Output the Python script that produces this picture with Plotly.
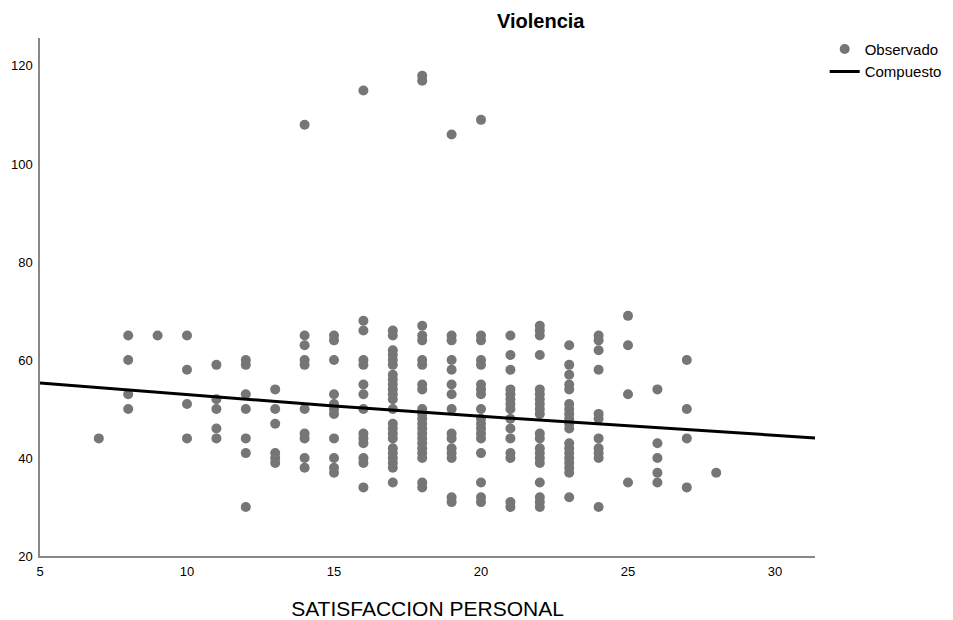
import plotly.graph_objects as go

# Observed points: SATISFACCION PERSONAL (x) vs Violencia (y)
satisfaccion = (
    [7]
    + [8] * 4
    + [9]
    + [10] * 4
    + [11] * 5
    + [12] * 7
    + [13] * 6
    + [14] * 10
    + [15] * 11
    + [16] * 14
    + [17] * 23
    + [18] * 22
    + [19] * 15
    + [20] * 18
    + [21] * 15
    + [22] * 20
    + [23] * 19
    + [24] * 11
    + [25] * 4
    + [26] * 5
    + [27] * 4
    + [28]
)
violencia = [
    44,
    65, 60, 53, 50,
    65,
    65, 58, 51, 44,
    59, 52, 50, 46, 44,
    60, 59, 53, 50, 44, 41, 30,
    54, 50, 47, 41, 40, 39,
    108, 65, 63, 60, 59, 50, 45, 44, 40, 38,
    65, 64, 60, 53, 51, 50, 49, 44, 40, 38, 37,
    115, 68, 66, 60, 59, 55, 53, 50, 45, 44, 43, 40, 39, 34,
    66, 65, 62, 61, 60, 59, 57, 56, 55, 54, 53, 52, 50, 47, 46, 45, 44, 42, 41, 40, 39, 38, 35,
    118, 117, 67, 65, 64, 60, 59, 55, 54, 50, 49, 48, 47, 46, 45, 44, 43, 42, 41, 40, 35, 34,
    106, 65, 64, 60, 58, 55, 53, 50, 45, 44, 42, 41, 40, 32, 31,
    109, 65, 64, 60, 59, 55, 54, 53, 50, 48, 47, 46, 45, 44, 41, 35, 32, 31,
    65, 61, 58, 54, 53, 52, 51, 50, 48, 46, 44, 41, 40, 31, 30,
    67, 66, 65, 61, 54, 53, 52, 51, 50, 49, 45, 44, 42, 41, 40, 39, 35, 32, 31, 30,
    63, 59, 57, 55, 54, 51, 50, 49, 48, 47, 46, 43, 42, 41, 40, 39, 38, 37, 32,
    65, 64, 62, 58, 49, 48, 44, 42, 41, 40, 30,
    69, 63, 53, 35,
    54, 43, 40, 37, 35,
    60, 50, 44, 34,
    37,
]

# Fitted compound curve
curve_x = [5, 10, 15, 20, 25, 31.36]
curve_y = [55.3, 52.9, 50.6, 48.5, 46.5, 44.1]

x_ticks = [5, 10, 15, 20, 25, 30]
y_ticks = [20, 40, 60, 80, 100, 120]

FONT = "Liberation Sans, Arial, sans-serif"
GREY = "#767676"

fig = go.Figure()
fig.add_trace(go.Scatter(
    x=satisfaccion, y=violencia, mode="markers", name="Observado",
    marker=dict(color=GREY, size=10, line=dict(width=0)),
))
fig.add_trace(go.Scatter(
    x=curve_x, y=curve_y, mode="lines", name="Compuesto",
    line=dict(color="black", width=3),
))

fig.update_layout(
    width=953, height=620,
    margin=dict(l=40, r=138, t=38, b=64, autoexpand=False),
    paper_bgcolor="white", plot_bgcolor="white",
    font=dict(family=FONT, color="black", size=13),
    showlegend=True,
    legend=dict(
        x=1.0125, xanchor="left", y=1.01, yanchor="top",
        font=dict(size=15, family=FONT, color="black"),
        bgcolor="rgba(0,0,0,0)", itemwidth=30, tracegroupgap=0,
    ),
    xaxis=dict(
        range=[5, 31.36], tickvals=x_ticks, ticktext=[str(v) for v in x_ticks],
        showgrid=False, zeroline=False, showline=True, linecolor="#888888", linewidth=1.5,
        ticks="outside", ticklen=3, tickcolor="rgba(0,0,0,0)", tickfont=dict(size=13),
        automargin=False,
        title=dict(text="SATISFACCION PERSONAL", font=dict(size=21), standoff=26),
    ),
    yaxis=dict(
        range=[20, 125.7], tickvals=y_ticks, ticktext=[str(v) for v in y_ticks],
        showgrid=False, zeroline=False, showline=True, linecolor="#888888", linewidth=1.5,
        ticks="outside", ticklen=3, tickcolor="rgba(0,0,0,0)", tickfont=dict(size=13),
        automargin=False,
    ),
    annotations=[dict(
        text="<b>Violencia</b>", x=(541 - 40) / 775, y=1.0, xref="paper", yref="paper",
        yshift=17, xanchor="center", yanchor="middle", showarrow=False,
        font=dict(size=20, family=FONT, color="black"),
    )],
)

fig.write_html(
    "out.html",
    config={"displayModeBar": False},
    post_script="document.body.style.margin='0';document.body.style.overflow='hidden';",
)
